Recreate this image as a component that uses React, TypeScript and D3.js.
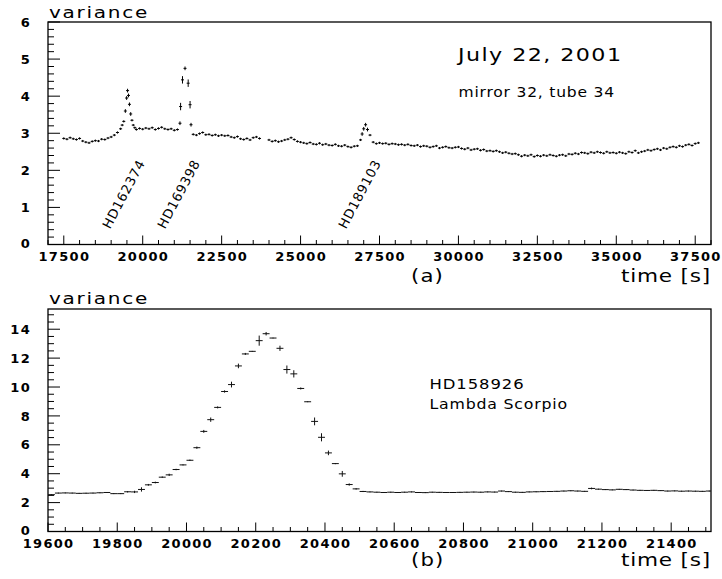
import React from "react";
import * as d3 from "d3";

const W = 722;
const H = 579;
const FONT = "'DejaVu Sans', Verdana, sans-serif";

// ---- panel (a): whole night, July 22 2001, mirror 32 tube 34 ----
// [time s, variance, error (optional)]
const nightSeries: [number, number, number?][] = [
  [17500, 2.86], [17600, 2.84], [17700, 2.88], [17800, 2.85], [17900, 2.83],
  [18000, 2.86], [18100, 2.79], [18200, 2.76], [18300, 2.74], [18400, 2.78],
  [18500, 2.8], [18600, 2.79], [18700, 2.84], [18800, 2.83], [18900, 2.87],
  [19000, 2.9], [19100, 2.95], [19200, 3.02], [19300, 3.12], [19350, 3.22],
  [19400, 3.32], [19450, 3.6, 0.05], [19490, 3.95, 0.05], [19520, 4.15, 0.05],
  [19550, 4.02, 0.05], [19580, 3.78, 0.05], [19620, 3.52, 0.05], [19660, 3.35],
  [19700, 3.22], [19750, 3.15], [19800, 3.1], [19900, 3.13], [20000, 3.11],
  [20100, 3.14], [20200, 3.12], [20300, 3.15], [20400, 3.1], [20500, 3.13],
  [20600, 3.16], [20700, 3.12], [20800, 3.1], [20900, 3.12], [21000, 3.08],
  [21100, 3.1], [21180, 3.27, 0.05], [21200, 3.72, 0.1], [21260, 4.44, 0.1],
  [21340, 4.75, 0.05], [21440, 4.35, 0.1], [21500, 3.77, 0.1], [21530, 3.23, 0.05],
  [21600, 2.97], [21700, 2.95], [21800, 2.99], [21900, 3.02], [22000, 2.96],
  [22100, 2.97], [22200, 2.94], [22300, 2.96], [22400, 2.93], [22500, 2.95],
  [22600, 2.93], [22700, 2.94], [22800, 2.9], [22900, 2.88], [23000, 2.91],
  [23100, 2.85], [23200, 2.83], [23300, 2.86], [23400, 2.82], [23500, 2.88],
  [23600, 2.9], [23700, 2.86],
  [24000, 2.82], [24100, 2.78], [24200, 2.8], [24300, 2.77], [24400, 2.79],
  [24500, 2.82], [24600, 2.84], [24700, 2.88], [24800, 2.83], [24900, 2.78],
  [25000, 2.76], [25100, 2.74], [25200, 2.72], [25300, 2.75], [25400, 2.71],
  [25500, 2.7], [25600, 2.73], [25700, 2.69], [25800, 2.71], [25900, 2.68],
  [26000, 2.67], [26100, 2.7], [26200, 2.66], [26300, 2.65], [26400, 2.68],
  [26500, 2.64], [26600, 2.62], [26700, 2.65], [26800, 2.66], [26900, 2.82],
  [26950, 2.98, 0.05], [27000, 3.12, 0.05], [27060, 3.23, 0.05], [27120, 3.1, 0.05],
  [27200, 2.95], [27300, 2.76], [27400, 2.72], [27500, 2.74], [27600, 2.72],
  [27700, 2.73], [27800, 2.7], [27900, 2.72], [28000, 2.71], [28100, 2.69],
  [28200, 2.7], [28300, 2.68], [28400, 2.7], [28500, 2.67], [28600, 2.66],
  [28700, 2.68], [28800, 2.64], [28900, 2.66], [29000, 2.65], [29100, 2.62],
  [29200, 2.64], [29300, 2.66], [29400, 2.6], [29500, 2.62], [29600, 2.64],
  [29700, 2.61], [29800, 2.6], [29900, 2.62], [30000, 2.63], [30100, 2.59],
  [30200, 2.57], [30300, 2.6], [30400, 2.55], [30500, 2.57], [30600, 2.58],
  [30700, 2.54], [30800, 2.56], [30900, 2.52], [31000, 2.53], [31100, 2.51],
  [31200, 2.53], [31300, 2.5], [31400, 2.47], [31500, 2.49], [31600, 2.46],
  [31700, 2.44], [31800, 2.45], [31900, 2.42], [32000, 2.38], [32100, 2.41],
  [32200, 2.39], [32300, 2.42], [32400, 2.37], [32500, 2.4], [32600, 2.38],
  [32700, 2.41], [32800, 2.39], [32900, 2.42], [33000, 2.4], [33100, 2.38],
  [33200, 2.41], [33300, 2.42], [33400, 2.39], [33500, 2.44], [33600, 2.43],
  [33700, 2.46], [33800, 2.44], [33900, 2.48], [34000, 2.47], [34100, 2.45],
  [34200, 2.49], [34300, 2.47], [34400, 2.5], [34500, 2.48], [34600, 2.46],
  [34700, 2.5], [34800, 2.47], [34900, 2.48], [35000, 2.46], [35100, 2.49],
  [35200, 2.47], [35300, 2.45], [35400, 2.5], [35500, 2.48], [35600, 2.53],
  [35700, 2.47], [35800, 2.5], [35900, 2.52], [36000, 2.55], [36100, 2.53],
  [36200, 2.56], [36300, 2.58], [36400, 2.55], [36500, 2.6], [36600, 2.58],
  [36700, 2.62], [36800, 2.64], [36900, 2.62], [37000, 2.66], [37100, 2.64],
  [37200, 2.68], [37300, 2.7], [37400, 2.67], [37500, 2.72], [37600, 2.74],
];

const starNames = ["HD162374", "HD169398", "HD189103"];
const starLabelTimes = [18964, 20706, 26439];
const starLabelLevel = 0.4;

// ---- panel (b): Lambda Scorpio transit, 20 s bins from 19600 ----
const binStart = 19600;
const binWidth = 20;
const transitValues = [
  2.55, 2.66, 2.67, 2.66, 2.64, 2.65, 2.66, 2.68, 2.7, 2.62, 2.62, 2.75,
  2.74, 2.91, 3.23, 3.39, 3.76, 3.92, 4.29, 4.61, 4.93, 5.8, 6.93, 7.74,
  8.59, 9.69, 10.17, 11.46, 12.29, 12.47, 13.21, 13.69, 13.39, 12.68, 11.21, 10.91,
  9.9, 8.98, 7.62, 6.52, 5.44, 4.7, 3.99, 3.25, 2.95, 2.77,
  2.74, 2.72, 2.7, 2.72, 2.7, 2.72, 2.74, 2.7, 2.69, 2.72,
  2.71, 2.7, 2.7, 2.71, 2.72, 2.73, 2.72, 2.74, 2.73, 2.8,
  2.76, 2.72, 2.71, 2.74, 2.75, 2.76, 2.77, 2.78, 2.8, 2.82,
  2.8, 2.78, 2.98, 2.93, 2.9, 2.88, 2.92, 2.9, 2.87, 2.85,
  2.84, 2.85, 2.83, 2.8, 2.81, 2.79, 2.8, 2.79, 2.78, 2.8,
];
const transitErrors = [
  0.03, 0.03, 0.03, 0.03, 0.03, 0.03, 0.03, 0.03, 0.03, 0.03, 0.03, 0.05,
  0.08, 0.15, 0.06, 0.06, 0.05, 0.08, 0.05, 0.04, 0.05, 0.08, 0.1, 0.15,
  0.07, 0.08, 0.2, 0.16, 0.07, 0.03, 0.35, 0.12, 0.03, 0.18, 0.28, 0.25,
  0.07, 0.03, 0.27, 0.28, 0.16, 0.04, 0.2, 0.08, 0.05, 0.04,
  0.03, 0.03, 0.03, 0.03, 0.03, 0.03, 0.03, 0.03, 0.03, 0.03,
  0.03, 0.03, 0.03, 0.03, 0.03, 0.03, 0.03, 0.03, 0.03, 0.03,
  0.03, 0.03, 0.03, 0.03, 0.03, 0.03, 0.03, 0.03, 0.03, 0.03,
  0.03, 0.03, 0.06, 0.03, 0.03, 0.03, 0.03, 0.03, 0.03, 0.03,
  0.03, 0.03, 0.03, 0.03, 0.03, 0.03, 0.03, 0.03, 0.03, 0.03,
];

const range = (a: number, b: number, s: number) =>
  d3.range(Math.round((b - a) / s) + 1).map((i) => +(a + i * s).toFixed(6));

type FrameProps = {
  id: string;
  x: d3.ScaleLinear<number, number>;
  y: d3.ScaleLinear<number, number>;
  xMajor: number[];
  xMinor: number[];
  yMajor: number[];
  yMinor: number[];
};

const Frame: React.FC<FrameProps> = ({ id, x, y, xMajor, xMinor, yMajor, yMinor }) => {
  const [x0, x1] = x.range();
  const [y1, y0] = y.range();
  const isMajor = (arr: number[], v: number) => arr.some((m) => Math.abs(m - v) < 1e-6);
  return (
    <g id={id}>
      <rect x={x0} y={y0} width={x1 - x0} height={y1 - y0} fill="none" stroke="#000" strokeWidth={1.3} />
      {yMinor.filter((v) => !isMajor(yMajor, v)).map((v) => (
        <line key={"ym" + v} x1={x0} x2={x0 + 6} y1={y(v)} y2={y(v)} stroke="#000" strokeWidth={1} />
      ))}
      {yMajor.map((v) => (
        <line key={"yM" + v} x1={x0} x2={x0 + 12} y1={y(v)} y2={y(v)} stroke="#000" strokeWidth={1} />
      ))}
      {xMinor.filter((v) => !isMajor(xMajor, v)).map((v) => (
        <line key={"xm" + v} x1={x(v)} x2={x(v)} y1={y1} y2={y1 - 4.5} stroke="#000" strokeWidth={1} />
      ))}
      {xMajor.map((v) => (
        <line key={"xM" + v} x1={x(v)} x2={x(v)} y1={y1} y2={y1 - 9} stroke="#000" strokeWidth={1} />
      ))}
      {yMajor.map((v) => (
        <text key={"yl" + v} x={31} y={y(v) - (v === 0 ? 1 : 0)} dy="0.36em" textAnchor="end"
          fontFamily={FONT} fontWeight="bold" fontSize={13} letterSpacing={1.3}>
          {v}
        </text>
      ))}
      {xMajor.map((v) => (
        <text key={"xl" + v} x={x(v) + 0.6} y={y1 + 16.8} textAnchor="middle"
          fontFamily={FONT} fontWeight="bold" fontSize={13} letterSpacing={1.3}>
          {v}
        </text>
      ))}
    </g>
  );
};

// wide text, like the plotting package's geometric font
const Label: React.FC<{ txt: string; x: number; y: number; size: number; sx: number; ls: number }> = ({
  txt, x, y, size, sx, ls,
}) => (
  <text transform={`translate(${x},${y}) scale(${sx},1)`} fontFamily={FONT} fontSize={size} letterSpacing={ls}>
    {txt}
  </text>
);

export default function App() {
  const topX = d3.scaleLinear().domain([17000, 38000]).range([48, 711]);
  const topY = d3.scaleLinear().domain([0, 6]).range([244.5, 22]);
  const botX = d3.scaleLinear().domain([19600, 21515]).range([48, 711]);
  const botY = d3.scaleLinear().domain([0, 15.4]).range([531.5, 309]);

  const transitBins = transitValues.map((v, i) => ({
    lo: binStart + i * binWidth,
    hi: binStart + (i + 1) * binWidth,
    mid: binStart + (i + 0.5) * binWidth,
    v,
    e: transitErrors[i],
  }));

  return (
    <svg width={W} height={H} viewBox={`0 0 ${W} ${H}`}
      style={{ position: "absolute", left: 0, top: 0, background: "#fff" }}>
      <defs>
        <clipPath id="clipA"><rect x={48} y={22} width={663} height={222.5} /></clipPath>
        <clipPath id="clipB"><rect x={48} y={309} width={663} height={222.5} /></clipPath>
      </defs>

      {/* panel (a) */}
      <Frame id="frameA" x={topX} y={topY}
        xMajor={range(17500, 37500, 2500)} xMinor={range(17000, 38000, 500)}
        yMajor={range(0, 6, 1)} yMinor={range(0, 6, 0.2)} />
      <g clipPath="url(#clipA)" stroke="#000" strokeWidth={1}>
        {nightSeries.map(([t, v, e]) => {
          const err = e ?? 0.03;
          return (
            <g key={"n" + t}>
              <line x1={topX(t) - 1.5} x2={topX(t) + 1.5} y1={topY(v)} y2={topY(v)} />
              <line x1={topX(t)} x2={topX(t)} y1={topY(v - err)} y2={topY(v + err)} />
            </g>
          );
        })}
      </g>
      {starNames.map((n, i) => (
        <text key={n} transform={`translate(${topX(starLabelTimes[i])},${topY(starLabelLevel)}) rotate(-62)`}
          fontFamily={FONT} fontSize={13} letterSpacing={0.8}>
          {n}
        </text>
      ))}
      <Label txt="variance" x={49} y={18} size={16} sx={1.25} ls={1.4} />
      <Label txt="July 22, 2001" x={458} y={60.5} size={18.5} sx={1.2} ls={1.2} />
      <Label txt="mirror 32, tube 34" x={458.5} y={97} size={13.5} sx={1.15} ls={0.7} />
      <Label txt="(a)" x={411} y={282} size={17} sx={1.25} ls={0.9} />
      <Label txt="time [s]" x={621} y={282} size={18} sx={1.2} ls={0.65} />

      {/* panel (b) */}
      <Frame id="frameB" x={botX} y={botY}
        xMajor={range(19600, 21400, 200)} xMinor={range(19600, 21500, 50)}
        yMajor={range(0, 14, 2)} yMinor={range(0, 15, 0.5)} />
      <g clipPath="url(#clipB)" stroke="#111" strokeWidth={1}>
        {transitBins.map((b) => (
          <g key={"b" + b.lo}>
            <line x1={botX(b.lo)} x2={botX(b.hi)} y1={botY(b.v)} y2={botY(b.v)} />
            <line x1={botX(b.mid)} x2={botX(b.mid)} y1={botY(b.v - b.e)} y2={botY(b.v + b.e)} />
          </g>
        ))}
      </g>
      <Label txt="variance" x={49} y={304} size={16} sx={1.25} ls={1.4} />
      <Label txt="HD158926" x={429.5} y={388.5} size={13.7} sx={1.2} ls={0.76} />
      <Label txt="Lambda Scorpio" x={429.5} y={408.5} size={13.7} sx={1.15} ls={0.7} />
      <Label txt="(b)" x={411} y={566} size={17} sx={1.25} ls={0.9} />
      <Label txt="time [s]" x={621} y={565.5} size={18} sx={1.2} ls={0.65} />
    </svg>
  );
}
